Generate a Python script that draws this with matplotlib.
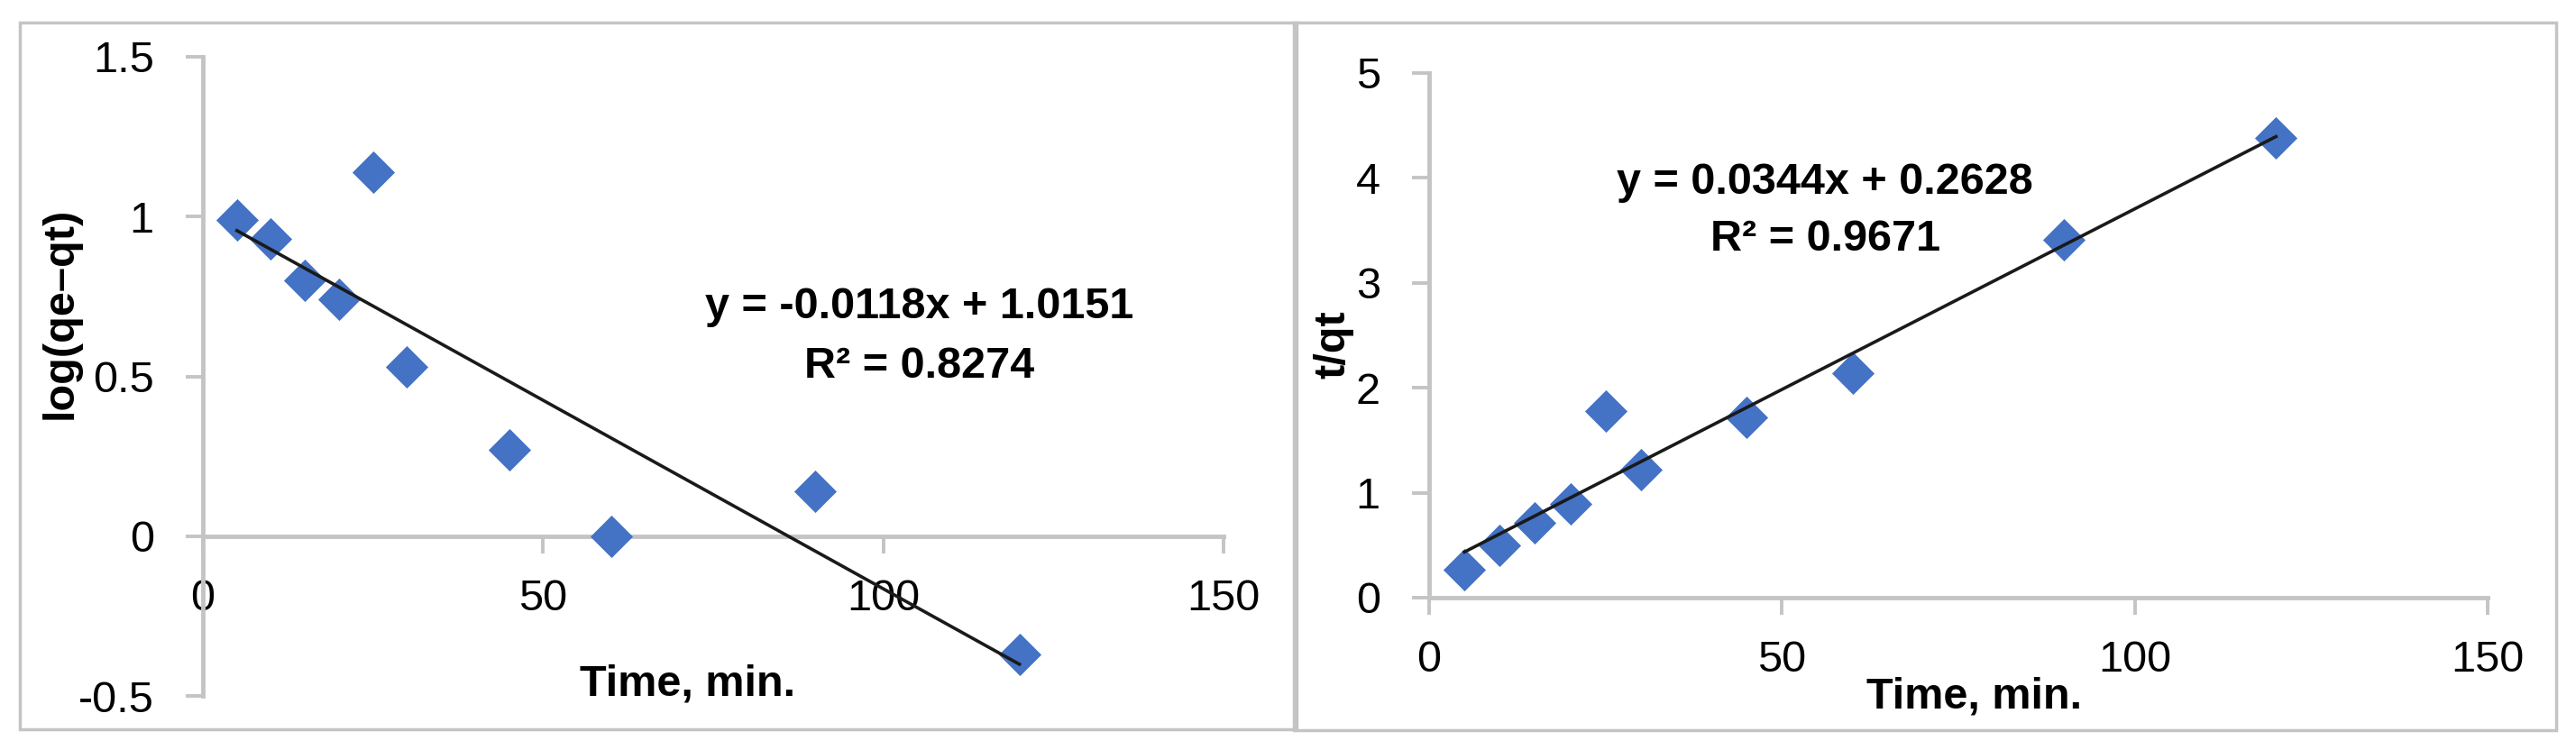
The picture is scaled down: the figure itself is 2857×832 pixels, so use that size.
import matplotlib
matplotlib.use('Agg')
import matplotlib.pyplot as plt
from matplotlib.patches import Rectangle
from matplotlib.ticker import FuncFormatter
import numpy as np

# Pseudo-first-order data (left)
time_pfo = [5, 10, 15, 20, 25, 30, 45, 60, 90, 120]
log_qe_qt = [0.99, 0.93, 0.80, 0.74, 1.14, 0.53, 0.27, 0.00, 0.14, -0.37]
pfo_slope, pfo_intercept = -0.0118, 1.0151
pfo_r2 = 0.8274

# Pseudo-second-order data (right)
time_pso = [5, 10, 15, 20, 25, 30, 45, 60, 90, 120]
t_qt = [0.27, 0.50, 0.71, 0.89, 1.78, 1.22, 1.72, 2.14, 3.41, 4.38]
pso_slope, pso_intercept = 0.0344, 0.2628
pso_r2 = 0.9671

x_ticks = [0, 50, 100, 150]
left_yticks = [-0.5, 0, 0.5, 1, 1.5]
right_yticks = [0, 1, 2, 3, 4, 5]

plt.rcParams['font.family'] = ['Liberation Sans', 'DejaVu Sans']
plt.rcParams['axes.unicode_minus'] = False

W, H = 2857, 832
fig = plt.figure(figsize=(W / 100, H / 100), dpi=100)

axis_grey = '#c4c4c4'
blue = '#4472C4'
fs = 35


def px_axes(x0, x1, ytop, ybot):
    # pixel box -> figure fraction
    return [x0 / W, 1 - ybot / H, (x1 - x0) / W, (ybot - ytop) / H]


def style_axes(ax):
    for side in ['top', 'right']:
        ax.spines[side].set_visible(False)
    for side in ['left', 'bottom']:
        ax.spines[side].set_color(axis_grey)
        ax.spines[side].set_linewidth(3.5)
    ax.spines['bottom'].set_position(('data', 0))
    ax.tick_params(axis='both', direction='out', length=14, width=2.8,
                   color=axis_grey, labelsize=fs, labelcolor='black')
    ax.tick_params(axis='x', pad=20)
    ax.tick_params(axis='y', pad=25)
    ax.xaxis.set_major_formatter(FuncFormatter(lambda v, p: f'{v:g}'))
    ax.yaxis.set_major_formatter(FuncFormatter(lambda v, p: f'{v:g}'))
    ax.patch.set_alpha(0)


# frames around each panel
for (x0, y0, x1, y1) in [(22, 25, 1438, 809), (1435, 25, 2835, 810)]:
    fig.add_artist(Rectangle((x0 / W, 1 - y1 / H), (x1 - x0) / W, (y1 - y0) / H,
                             transform=fig.transFigure, fill=False,
                             edgecolor='#c4c4c4', linewidth=2.5))

# Left panel
ax1 = fig.add_axes(px_axes(225, 1357, 63, 772))
ax1.set_xlim(0, 150)
ax1.set_ylim(-0.5, 1.5)
ax1.set_xticks(x_ticks)
ax1.set_yticks(left_yticks)
style_axes(ax1)
ax1.scatter(time_pfo, log_qe_qt, marker='D', s=24 ** 2, color=blue,
            zorder=3, clip_on=False, linewidths=0)
xf = np.array([time_pfo[0], time_pfo[-1]])
ax1.plot(xf, pfo_slope * xf + pfo_intercept, color='#1a1a1a', lw=2.6, zorder=4)
ax1.text(105.3, 0.717, f'y = {pfo_slope}x + {pfo_intercept}', fontsize=fs,
         fontweight='bold', ha='center', va='center')
ax1.text(105.3, 0.530, f'R\u00b2 = {pfo_r2}', fontsize=fs,
         fontweight='bold', ha='center', va='center')
ax1.set_xlabel('Time, min.', fontsize=fs, fontweight='bold', va='center')
ax1.xaxis.set_label_coords(0.475, 0.018)
ax1.set_ylabel('log(qe\u2013qt)', fontsize=fs, fontweight='bold', va='center')
ax1.yaxis.set_label_coords(-0.1396, 0.5994)

# Right panel
ax2 = fig.add_axes(px_axes(1585, 2759, 80.6, 663))
ax2.set_xlim(0, 150)
ax2.set_ylim(0, 5)
ax2.set_xticks(x_ticks)
ax2.set_yticks(right_yticks)
style_axes(ax2)
ax2.scatter(time_pso, t_qt, marker='D', s=24 ** 2, color=blue,
            zorder=3, clip_on=False, linewidths=0)
xf = np.array([time_pso[0], time_pso[-1]])
ax2.plot(xf, pso_slope * xf + pso_intercept, color='#1a1a1a', lw=2.6, zorder=4)
ax2.text(56.1, 3.95, f'y = {pso_slope}x + {pso_intercept}', fontsize=fs,
         fontweight='bold', ha='center', va='center')
ax2.text(56.1, 3.41, f'R\u00b2 = {pso_r2}', fontsize=fs,
         fontweight='bold', ha='center', va='center')
ax2.set_xlabel('Time, min.', fontsize=fs, fontweight='bold', va='center')
ax2.xaxis.set_label_coords(0.5153, -0.189)
ax2.set_ylabel('t/qt', fontsize=fs, fontweight='bold', va='center')
ax2.yaxis.set_label_coords(-0.0903, 0.4825)

fig.savefig('out.png', dpi=100)
